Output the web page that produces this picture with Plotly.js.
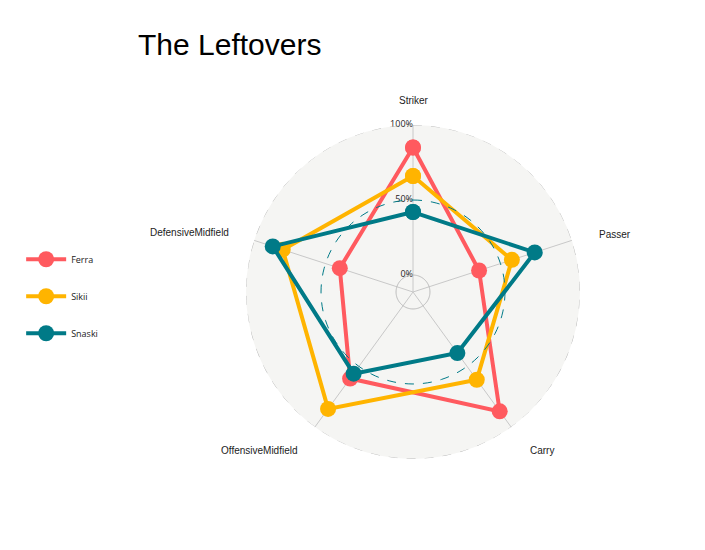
<!DOCTYPE html><html><head><script src="https://cdn.plot.ly/plotly-3.0.1.min.js"></script></head><body style="margin:0"><div id="c" style="width:705px;height:550px"></div><script>
const categories=["Striker","Passer","Carry","OffensiveMidfield","DefensiveMidfield"];
const seriesNames=["Ferra","Sikii","Snaski"];
const ferra=[0.85,0.35,0.87,0.60,0.40];
const sikii=[0.66,0.58,0.61,0.85,0.80];
const snaski=[0.42,0.74,0.39,0.56,0.87];
const colors=["#FF5A5F","#FFB400","#007A87"];
const gridVals=[0,0.5,1], gridLabels=["0%","50%","100%"];
const circ=[];for(let a=0;a<=360;a+=3)circ.push(a);
const traces=[];
[[0,'#bbbbbb','solid'],[0.5,'#007A87','dash'],[1,'#bbbbbb','dash']].forEach(g=>{
 traces.push({type:'scatterpolar',mode:'lines',thetaunit:'degrees',theta:circ,r:circ.map(()=>g[0]),line:{color:g[1],width:1,dash:g[2]},showlegend:false,hoverinfo:'skip',subplot:'polar2'});
});
[ferra,sikii,snaski].forEach((d,i)=>{
 traces.push({type:'scatterpolar',mode:'lines+markers',name:seriesNames[i],legendgroup:'g'+i,theta:categories.concat([categories[0]]),r:d.concat([d[0]]),line:{color:colors[i],width:4},marker:{size:16,color:colors[i]}});
});
traces.push({type:'scatterpolar',mode:'text',theta:gridVals.map(()=>categories[0]),r:gridVals,text:gridLabels,textposition:'middle left',textfont:{size:9,color:'#222'},showlegend:false,hoverinfo:'skip',cliponaxis:false});
const dom={x:[246/705,580/705],y:[1-459/550,1-125/550]};
const pol=(bg)=>({domain:dom,bgcolor:bg,radialaxis:{range:[-0.113,1],visible:false,showgrid:false},angularaxis:{rotation:90,direction:'clockwise',showline:false,gridcolor:'#c8c8c8',showticklabels:false,ticks:''}});
const p2=pol('rgba(0,0,0,0)');p2.angularaxis={visible:false,rotation:90,direction:'clockwise'};
const labelPos=[[414,101],[615,234],[542,450],[259,450],[189,233]];
const ann=categories.map((c,i)=>({text:c,x:labelPos[i][0]/705,y:1-labelPos[i][1]/550,xref:'paper',yref:'paper',showarrow:false,xanchor:'center',yanchor:'middle',font:{size:10,color:'#222',family:'Liberation Sans, Arial'}}));
Plotly.newPlot('c',traces,{width:705,height:550,margin:{l:0,r:0,t:0,b:0},paper_bgcolor:'white',annotations:ann,
 title:{text:'The Leftovers',x:138/705,xanchor:'left',y:1-44/550,yanchor:'middle',font:{size:30,color:'#000',family:'Liberation Sans, Arial'}},
 polar:pol('#F5F5F3'),polar2:p2,
 legend:{x:0.03,y:0.555,xanchor:'left',yanchor:'top',font:{size:9,color:'#222'},tracegroupgap:18,itemwidth:40},
 showlegend:true},{displayModeBar:false});
</script></body></html>
